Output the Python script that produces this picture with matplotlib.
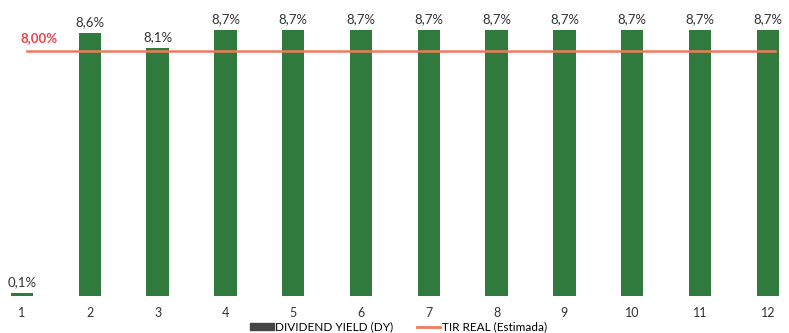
import matplotlib
matplotlib.use("Agg")
import matplotlib.pyplot as plt
from matplotlib.patches import Patch
from matplotlib.lines import Line2D

months = [1, 2, 3, 4, 5, 6, 7, 8, 9, 10, 11, 12]
dividend_yield = [0.1, 8.6, 8.1, 8.7, 8.7, 8.7, 8.7, 8.7, 8.7, 8.7, 8.7, 8.7]
tir_real = 8.0
month_labels = [str(m) for m in months]
dy_labels = ["0,1%", "8,6%", "8,1%"] + ["8,7%"] * 9
tir_label = "8,00%"

plt.rcParams["font.family"] = ["Lato", "DejaVu Sans"]

fig = plt.figure(figsize=(7.89, 3.33), dpi=100)
ax = fig.add_axes([0, 1 - 296 / 333, 1, 296 / 333])

bar_color = "#2f7a3c"
line_color = "#f07a5c"

ax.bar(months, dividend_yield, width=0.33, color=bar_color, zorder=2)
ax.plot([1.07, 12.1], [tir_real, tir_real], color=line_color, lw=1.8, zorder=3)

for m, v, lab in zip(months, dividend_yield, dy_labels):
    ax.text(m, v + 0.36, lab, ha="center", va="center", fontsize=9.5, color="#333333")

ax.text(1.25, tir_real + 0.42, tir_label, ha="center", va="center",
        fontsize=9.5, fontweight="bold", color="#e8434a")

ax.set_xlim(1 - 22 / 67.8, 1 + 767 / 67.8)
ax.set_ylim(0, 9.67)
ax.set_xticks(months)
ax.set_xticklabels(month_labels, fontsize=9, color="#333333")
ax.tick_params(axis="x", length=0, pad=8)
ax.set_yticks([])
for s in ax.spines.values():
    s.set_visible(False)

handles = [Patch(color="#444444", label="DIVIDEND YIELD (DY)"),
           Line2D([0], [0], color=line_color, lw=2, label="TIR REAL (Estimada)")]
fig.legend(handles=handles, loc="center", bbox_to_anchor=(0.505, 1 - 327 / 333),
           ncol=2, frameon=False, fontsize=8.5, handlelength=2.0,
           handleheight=0.6, columnspacing=2.0, handletextpad=0.1)

fig.savefig("out.png", dpi=100)
